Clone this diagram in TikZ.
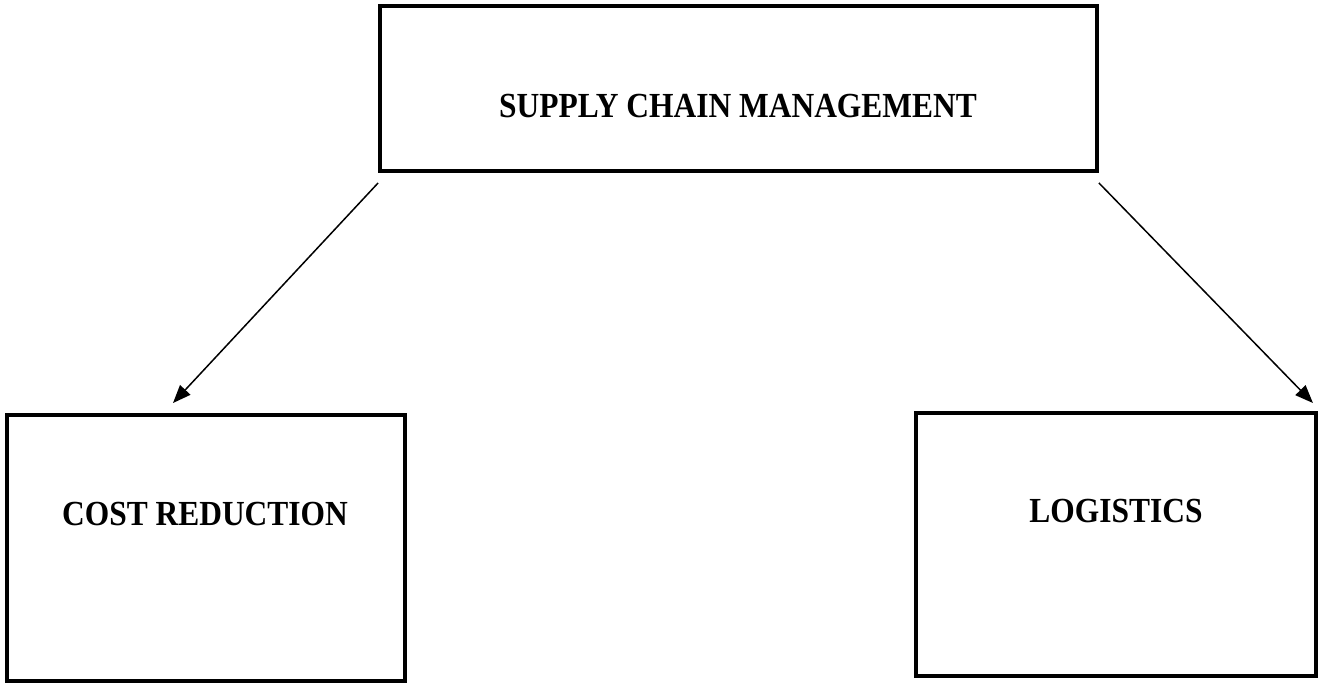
\documentclass[tikz,border=0pt]{standalone}
\usepackage{fontspec}
\setmainfont{Liberation Serif}
\usetikzlibrary{arrows.meta, positioning}

\begin{document}
\begin{tikzpicture}[x=0.02cm,y=-0.02cm,>={Triangle[length=0.36cm,width=0.28cm]},
        box/.style={draw, line width=0.08cm, inner sep=0pt},
        boxtext/.style={font=\fontsize{17.9}{20}\selectfont\bfseries, anchor=base, inner sep=0pt,
                        yscale=1.12, transform shape},
        link/.style={->, line width=0.03cm}]
    \useasboundingbox (0,0) rectangle (1321,687);

      \node[box, minimum width=14.34cm, minimum height=3.3cm]  (scm)  at (738.5,88.5) {};
      \node[box, minimum width=7.96cm, minimum height=5.32cm]  (cost) at (206,548)    {};
      \node[box, minimum width=8cm, minimum height=5.26cm]     (logi) at (1116,544.5) {};

      \node[boxtext] (scm_t)  at (738,117)  {SUPPLY CHAIN MANAGEMENT};
      \node[boxtext] (cost_t) at (205,525)  {COST REDUCTION};
      \node[boxtext] (logi_t) at (1116,522) {LOGISTICS};

      % arrow ends sit a little off the boxes
      \coordinate (scm_l)  at ([yshift=-0.2cm]scm.south west);
      \coordinate (scm_r)  at ([yshift=-0.2cm]scm.south east);
      \coordinate (cost_in) at ([shift={(3.36cm,0.2cm)}]cost.north west);
      \coordinate (logi_in) at ([shift={(-0.1cm,0.16cm)}]logi.north east);

      \draw[link] (scm_l) -- (cost_in);
      \draw[link] (scm_r) -- (logi_in);
    \end{tikzpicture}
\end{document}
